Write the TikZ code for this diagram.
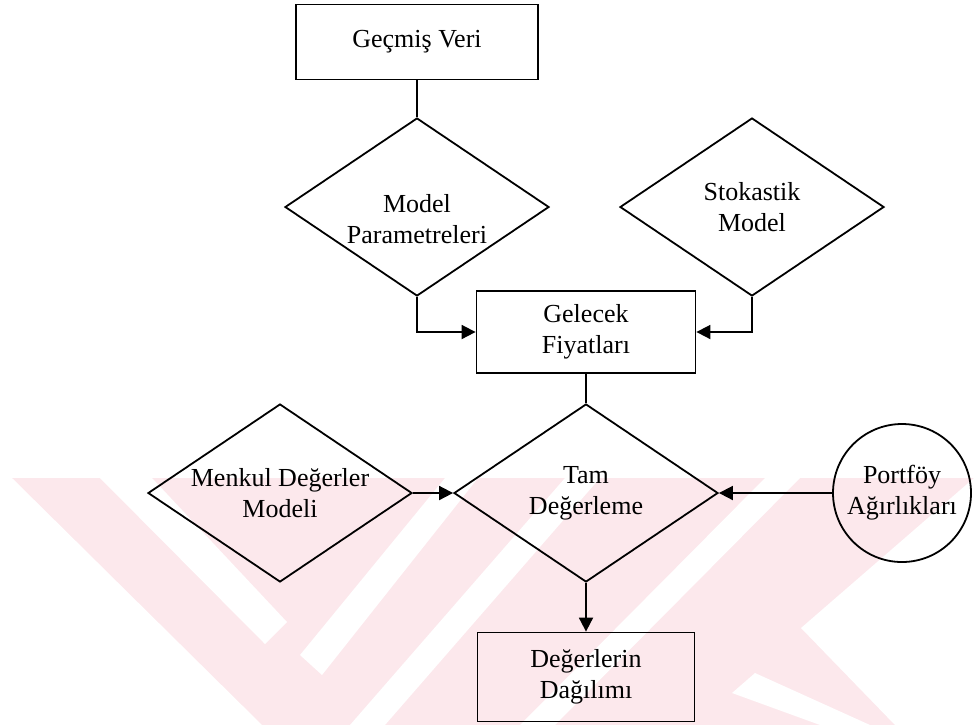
\documentclass[tikz,border=0pt]{standalone}
\usepackage{fontspec}
\setmainfont{Liberation Serif}
\usepackage{xcolor}
\usetikzlibrary{shapes.geometric, arrows.meta}
\usetikzlibrary{positioning}
\definecolor{wmpink}{RGB}{252,232,236}
\tikzstyle{process} = [rectangle, draw=black, line width=0.9pt, inner sep=0pt, align=center]
\tikzstyle{decision} = [diamond, aspect=1.5, draw=black, line width=0.9pt, minimum width=132pt, minimum height=89pt, inner sep=0pt, align=center]
\tikzstyle{weights} = [circle, draw=black, line width=0.9pt, minimum size=69pt, inner sep=0pt, align=center]
\tikzstyle{link} = [line width=0.9pt]
\tikzstyle{feed} = [line width=0.9pt,-{Triangle[length=7pt,width=7pt]}]

\begin{document}
\begin{tikzpicture}[x=0.5pt,y=-0.5pt,font=\fontsize{13}{15.5}\selectfont]
      \useasboundingbox (0,0) rectangle (974,725);
      % watermark behind the chart
      \fill [wmpink] (0,478) rectangle (974,725);
      \fill [white] (0,478) -- (12,478) -- (262,725) -- (0,725) -- cycle;
      \fill [white] (100,478) -- (152,478) -- (287,622) -- (265,644) -- cycle;
      \fill [white] (300,655) -- (322,675) -- (478,478) -- (445,478) -- cycle;
      \fill [white] (350,725) -- (385,725) -- (600,478) -- (565,478) -- cycle;
      \fill [white] (520,725) -- (555,725) -- (800,478) -- (765,478) -- cycle;
      \fill [white] (801,628) -- (974,478) -- (974,725) -- (895,725) -- cycle;
      \fill [white] (732,693) -- (755,673) -- (870,725) -- (820,725) -- cycle;

      \node (gv) [process, minimum width=121pt, minimum height=37.5pt] at (417,42) {Geçmiş Veri};
      \node (mp) [decision, label={[align=center,yshift=-6pt]center:Model\\Parametreleri}] at (417,207) {};
      \node (sm) [decision] at (752,207) {Stokastik\\Model};
      \node (gf) [process, minimum width=109.5pt, minimum height=41pt] at (586,332) {Gelecek\\Fiyatları};
      \node (td) [decision] at (586,493) {Tam\\Değerleme};
      \node (mdm) [decision] at (280,493) {Menkul Değerler\\Modeli};
      \node (pa) [weights] at (902,493) {Portföy\\Ağırlıkları};
      \node (dd) [process, minimum width=108.5pt, minimum height=44.5pt] at (586,677) {Değerlerin\\Dağılımı};
      \draw [link] (gv) -- (mp);
      \draw [feed] (mp.south) |- (gf.west);
      \draw [feed] (sm.south) |- (gf.east);
      \draw [link] (gf) -- (td);
      \draw [feed] (mdm) -- (td);
      \draw [feed] (pa) -- (td);
      \draw [feed] (td) -- (dd);
    \end{tikzpicture}
\end{document}
